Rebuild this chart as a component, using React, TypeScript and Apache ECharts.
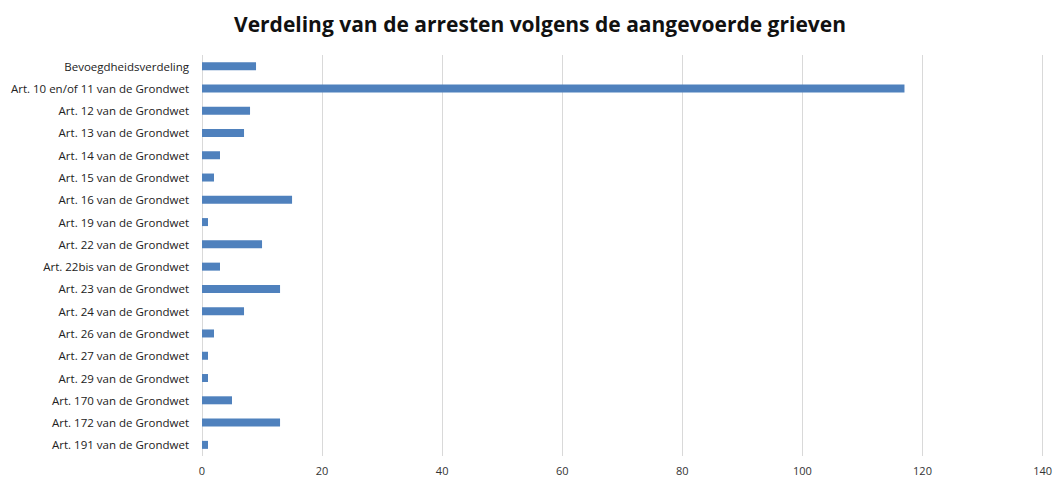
import React, { useEffect, useRef } from "react";
import * as echarts from "echarts";

const categories = [
  "Bevoegdheidsverdeling",
  "Art. 10 en/of 11 van de Grondwet",
  "Art. 12 van de Grondwet",
  "Art. 13 van de Grondwet",
  "Art. 14 van de Grondwet",
  "Art. 15 van de Grondwet",
  "Art. 16 van de Grondwet",
  "Art. 19 van de Grondwet",
  "Art. 22 van de Grondwet",
  "Art. 22bis van de Grondwet",
  "Art. 23 van de Grondwet",
  "Art. 24 van de Grondwet",
  "Art. 26 van de Grondwet",
  "Art. 27 van de Grondwet",
  "Art. 29 van de Grondwet",
  "Art. 170 van de Grondwet",
  "Art. 172 van de Grondwet",
  "Art. 191 van de Grondwet",
];
const values = [9, 117, 8, 7, 3, 2, 15, 1, 10, 3, 13, 7, 2, 1, 1, 5, 13, 1];
const title = "Verdeling van de arresten volgens de aangevoerde grieven";

export default function App() {
  const ref = useRef<HTMLDivElement>(null);
  useEffect(() => {
    if (!ref.current) return;
    const chart = echarts.init(ref.current, null, { renderer: "svg" });
    chart.setOption({
      animation: false,
      backgroundColor: "#ffffff",
      title: {
        text: title,
        left: 535,
        textAlign: "center",
        top: 8,
        textStyle: {
          fontFamily: "Open Sans",
          fontSize: 21,
          fontWeight: "bold",
          color: "#111",
        },
      },
      grid: { left: 202, right: 11, top: 55, height: 401 },
      xAxis: {
        type: "value",
        min: 0,
        max: 140,
        interval: 20,
        axisLine: { show: false },
        axisTick: { show: false },
        splitLine: { lineStyle: { color: "#d9d9d9", width: 1 } },
        axisLabel: { fontFamily: "Open Sans", fontSize: 11, color: "#333", margin: 9 },
      },
      yAxis: {
        type: "category",
        data: categories,
        inverse: true,
        axisLine: { show: false },
        axisTick: { show: false },
        axisLabel: { fontFamily: "Open Sans", fontSize: 11.5, color: "#222", margin: 13 },
      },
      series: [
        {
          type: "bar",
          data: values,
          barWidth: 8,
          itemStyle: { color: "#4f81bd" },
        },
      ],
    });
    return () => chart.dispose();
  }, []);
  return (
    <div
      ref={ref}
      style={{ position: "fixed", left: 0, top: 0, width: 1055, height: 479 }}
    />
  );
}
